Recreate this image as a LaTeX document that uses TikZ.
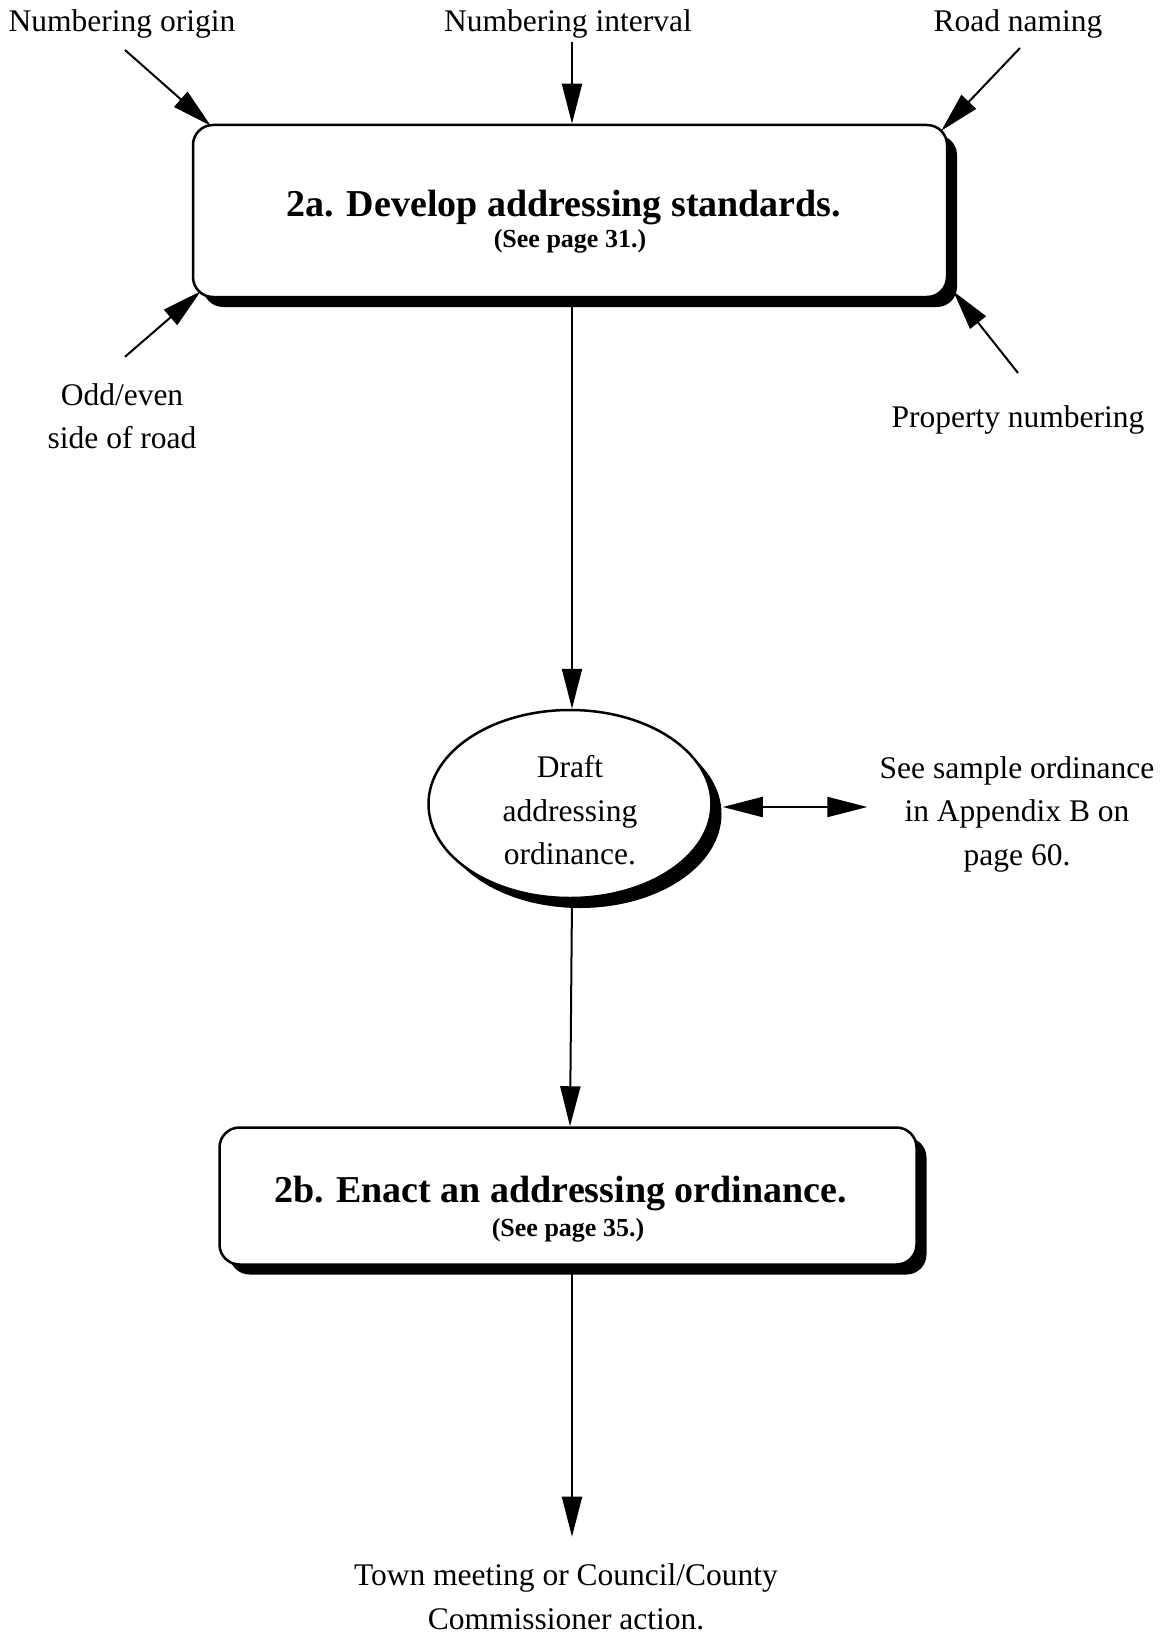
\documentclass[tikz,border=0pt]{standalone}
\usepackage{fontspec}
\setmainfont{Liberation Serif}
\usetikzlibrary{arrows.meta,shapes.geometric,shadows}

\begin{document}
\begin{tikzpicture}[x=0.5pt, y=-0.5pt,
  every node/.style={inner sep=0pt, font=\fontsize{15.75}{21.75}\selectfont},
  stepbox/.style={draw, fill=white, line width=1.25pt, rounded corners=10pt, align=center,
    drop shadow={shadow xshift=5pt, shadow yshift=-5pt, fill=black, opacity=1}},
  draftnode/.style={ellipse, draw, fill=white, line width=1.25pt, align=center,
    minimum width=141.5pt, minimum height=94pt,
    drop shadow={shadow xshift=5pt, shadow yshift=-5pt, fill=black, opacity=1}},
  arr/.style={line width=1pt, -{Triangle[length=20pt, width=10pt]}}]
\useasboundingbox (0,0) rectangle (1161,1637);
\node[stepbox, minimum width=377pt, minimum height=86pt, font=\bfseries\fontsize{13}{15.5}\selectfont] (std) at (570,211)
  {{\fontsize{19}{15.5}\selectfont\rule{0pt}{24.2pt}2a. Develop addressing standards.\hspace*{6pt}}\\(See page 31.)};
\node[draftnode] (draft) at (570,804) {\rule{0pt}{17.7pt}Draft\\addressing\\ordinance.};
\node[stepbox, minimum width=348.5pt, minimum height=68.5pt, font=\bfseries\fontsize{13}{17}\selectfont] (enact) at (568,1196)
  {{\fontsize{19}{17}\selectfont\rule{0pt}{26.2pt}2b. Enact an addressing ordinance.\hspace*{7.5pt}}\\(See page 35.)};
\node[anchor=base] (origin) at (122,32) {Numbering origin};
\node[anchor=base] (interval) at (568,32) {Numbering interval};
\node[anchor=base] (road) at (1018,32) {Road naming};
\node[anchor=base] (property) at (1018,427) {Property numbering};
\node[align=center] (oddeven) at (122,416) {Odd/even\\side of road};
\node[align=center] (sample) at (1017,814) {See sample ordinance\\in Appendix B on\\page 60.};
\node[align=center] (town) at (566,1597) {Town meeting or Council/County\\Commissioner action.};
\draw[arr] ([shift={(3,18)}]origin.base) -- ([shift={(19,2)}]std.north west);
\draw[arr] ([shift={(4,10)}]interval.base) -- ([xshift=1pt]std.north);
\draw[arr] ([shift={(2,16)}]road.base) -- ([shift={(-7,7)}]std.north east);
\draw[arr] ([shift={(0,-54)}]property.base) -- ([shift={(5,-7)}]std.south east);
\draw[arr] ([shift={(3,-26)}]oddeven.north) -- ([shift={(9,-7)}]std.south west);
\foreach \a/\b in {std/draft, draft/enact}
  \draw[arr] ([xshift=1pt]\a.south) -- ([xshift=1pt]\b.north);
\draw[arr] ([xshift=2pt]enact.south) -- ([shift={(6,-27)}]town.north);
\draw[arr, {Triangle[length=20pt, width=10pt]}-{Triangle[length=20pt, width=10pt]}] ([shift={(10,3)}]draft.east) -- ([shift={(-12,-7)}]sample.west);
\end{tikzpicture}
\end{document}
